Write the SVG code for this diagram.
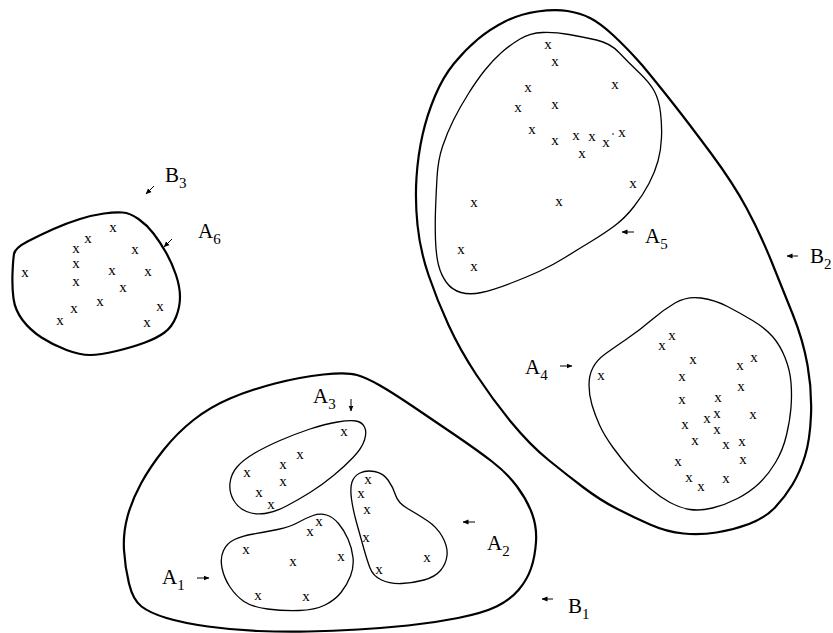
<svg xmlns="http://www.w3.org/2000/svg" width="833" height="633" viewBox="0 0 833 633">
<defs>
<style>
.b{fill:none;stroke:#000;stroke-width:2.2;stroke-linejoin:round}
.a{fill:none;stroke:#000;stroke-width:1.3;stroke-linejoin:round}
.m text{font-family:"Liberation Serif","Times New Roman",serif;font-size:15px;text-anchor:middle;fill:#000}
.lb{font-family:"Liberation Serif","Times New Roman",serif;font-size:21px;fill:#000}
.lb tspan{font-size:15px}
.ar{fill:none;stroke:#000;stroke-width:1;marker-end:url(#ah)}
</style>
<marker id="ah" markerUnits="userSpaceOnUse" markerWidth="6" markerHeight="6" viewBox="0 0 6 6" refX="5.5" refY="3" orient="auto">
<path d="M0,0.5 L6,3 L0,5.5 Z" fill="#000"/>
</marker>
</defs>
<rect width="833" height="633" fill="#fff"/>

<g id="B1">
<path class="b" d="M323.5,374.5 Q347,372 357,375 Q367,378 380,385.5 Q393,393 413,406.5 Q433,420 455,435 Q477,450 492,461.5 Q507,473 517,486.5 Q527,500 532,513.5 Q537,527 536,542 Q535,557 531,568.5 Q527,580 518.5,590 Q510,600 496.5,606.5 Q483,613 458,618 Q433,623 408,625.5 Q383,628 358,629.5 Q333,631 308,631.5 Q283,632 258,631 Q233,630 208,626.5 Q183,623 166.5,618 Q150,613 141.5,606.5 Q133,600 129,583.5 Q125,567 124,550 Q123,533 127.5,516.5 Q132,500 141,483.5 Q150,467 163.5,450 Q177,433 193.5,420 Q210,407 230,398.5 Q250,390 275,383.5 Q300,377 323.5,374.5 Z"/>
<text class="lb" x="568" y="613">B<tspan dy="6">1</tspan></text>
</g>

<g id="A1">
<path class="a" d="M313,515.5 Q320,513 326.5,515 Q333,517 338.5,523.5 Q344,530 348,539 Q352,548 353,557.5 Q354,567 350.5,576 Q347,585 341,592.5 Q335,600 325,605 Q315,610 299,610.5 Q283,611 267.5,609 Q252,607 244,601.5 Q236,596 230,587 Q224,578 222,568 Q220,558 223.5,550.5 Q227,543 234.5,539.5 Q242,536 253.5,534 Q265,532 277.5,529.5 Q290,527 298,522.5 Q306,518 313,515.5 Z"/>
<g class="m" transform="translate(0,3.5)">
<text x="319" y="522">x</text><text x="310" y="532">x</text><text x="246" y="550">x</text><text x="293" y="562">x</text><text x="341" y="557">x</text><text x="258" y="596">x</text><text x="306" y="597">x</text>
</g>
<text class="lb" x="162" y="584">A<tspan dy="6">1</tspan></text>
</g>

<g id="A2">
<path class="a" d="M360,473 Q366,470 374.5,471.5 Q383,473 388,480 Q393,487 395.5,495 Q398,503 407.5,508.5 Q417,514 427,520.5 Q437,527 442.5,537 Q448,547 447,555.5 Q446,564 440.5,570.5 Q435,577 424,580 Q413,583 401.5,583.5 Q390,584 381.5,580 Q373,576 370,568 Q367,560 363.5,547.5 Q360,535 356.5,522.5 Q353,510 351.5,499 Q350,488 352,482 Q354,476 360,473 Z"/>
<g class="m" transform="translate(0,3.5)">
<text x="368" y="480">x</text><text x="361" y="494">x</text><text x="367" y="510">x</text><text x="366" y="538">x</text><text x="379" y="570">x</text><text x="427" y="558">x</text>
</g>
<text class="lb" x="487" y="550">A<tspan dy="6">2</tspan></text>
</g>

<g id="A3">
<path class="a" d="M337.5,422 Q350,420 356,421 Q362,422 364.5,427 Q367,432 364.5,440 Q362,448 353.5,457 Q345,466 333.5,475.5 Q322,485 310,492.5 Q298,500 286.5,506 Q275,512 265,513.5 Q255,515 246.5,511.5 Q238,508 233.5,500 Q229,492 230,483 Q231,474 237,467 Q243,460 254,453.5 Q265,447 280,440.5 Q295,434 310,429 Q325,424 337.5,422 Z"/>
<g class="m" transform="translate(0,3.5)">
<text x="344" y="432">x</text><text x="300" y="455">x</text><text x="283" y="465">x</text><text x="247" y="473">x</text><text x="283" y="482">x</text><text x="259" y="493">x</text><text x="271" y="505">x</text>
</g>
<text class="lb" x="313" y="403">A<tspan dy="6">3</tspan></text>
</g>

<g id="B2">
<path class="b" d="M537.5,11.5 Q555,9 567.5,11 Q580,13 590,18 Q600,23 613.5,35.5 Q627,48 642,65 Q657,83 673.5,104 Q690,125 711.5,154 Q733,183 746.5,208 Q760,233 771.5,261.5 Q783,290 793,315 Q803,340 807.5,365 Q812,390 811,415 Q810,440 805,456 Q800,472 792.5,484.5 Q785,497 775,507.5 Q765,518 749,524 Q733,530 716.5,532.5 Q700,535 683.5,533.5 Q667,532 650,524.5 Q633,517 616.5,508.5 Q600,500 583.5,487.5 Q567,475 548.5,460 Q530,445 511.5,422.5 Q493,400 476.5,375 Q460,350 448.5,325 Q437,300 428.5,275 Q420,250 417.5,225 Q415,200 416.5,177.5 Q418,155 422.5,135 Q427,115 435,96 Q443,77 454,63.5 Q465,50 477.5,39.5 Q490,29 505,21.5 Q520,14 537.5,11.5 Z"/>
<text class="lb" x="810" y="263">B<tspan dy="6">2</tspan></text>
</g>

<g id="A4">
<path class="a" d="M675,303 Q687,296 701,298 Q715,300 727.5,306.5 Q740,313 752.5,320.5 Q765,328 772.5,336.5 Q780,345 785,357.5 Q790,370 791,382.5 Q792,395 791,407.5 Q790,420 786.5,435 Q783,450 775.5,462.5 Q768,475 759,483.5 Q750,492 737.5,498.5 Q725,505 712.5,508 Q700,511 690,509.5 Q680,508 670,502.5 Q660,497 650,488.5 Q640,480 631,470 Q622,460 613,447.5 Q604,435 599.5,425 Q595,415 592,405 Q589,395 589,385 Q589,375 593,367.5 Q597,360 604.5,354.5 Q612,349 626,339.5 Q640,330 651.5,320 Q663,310 675,303 Z"/>
<g class="m" transform="translate(0,3.5)">
<text x="662" y="346">x</text><text x="672" y="336">x</text><text x="693" y="360">x</text><text x="740" y="366">x</text><text x="754" y="358">x</text><text x="601" y="376">x</text><text x="682" y="377">x</text><text x="741" y="387">x</text><text x="682" y="400">x</text><text x="718" y="398">x</text><text x="707" y="419">x</text><text x="717" y="414">x</text><text x="753" y="415">x</text><text x="685" y="425">x</text><text x="717" y="430">x</text><text x="695" y="441">x</text><text x="726" y="445">x</text><text x="742" y="442">x</text><text x="678" y="462">x</text><text x="743" y="460">x</text><text x="689" y="478">x</text><text x="701" y="487">x</text><text x="726" y="479">x</text>
</g>
<text class="lb" x="525" y="374">A<tspan dy="6">4</tspan></text>
</g>

<g id="A5">
<path class="a" d="M520,39 Q530,33 542.5,32.5 Q555,32 569,34.5 Q583,37 596.5,40 Q610,43 619,52.5 Q628,62 639,72.5 Q650,83 654.5,91.5 Q659,100 660.5,112.5 Q662,125 661.5,137.5 Q661,150 658,161 Q655,172 649,183.5 Q643,195 634,206.5 Q625,218 615,225.5 Q605,233 591,241.5 Q577,250 565,257.5 Q553,265 540,271 Q527,277 510,283.5 Q493,290 481.5,292.5 Q470,295 461,292.5 Q452,290 446.5,282.5 Q441,275 438.5,265 Q436,255 435.5,240 Q435,225 435.5,210 Q436,195 437,177.5 Q438,160 442.5,146.5 Q447,133 453.5,120 Q460,107 468.5,93.5 Q477,80 485,70 Q493,60 501.5,52.5 Q510,45 520,39 Z"/>
<g class="m" transform="translate(0,3.5)">
<text x="548" y="45">x</text><text x="555" y="62">x</text><text x="528" y="88">x</text><text x="615" y="85">x</text><text x="518" y="108">x</text><text x="555" y="105">x</text><text x="532" y="130">x</text><text x="555" y="141">x</text><text x="576" y="136">x</text><text x="592" y="137">x</text><text x="606" y="143">x</text><text x="622" y="133">x</text><text x="582" y="154">x</text><text x="633" y="184">x</text><text x="474" y="203">x</text><text x="559" y="202">x</text><text x="461" y="250">x</text><text x="474" y="267">x</text>
</g>
<circle cx="613" cy="134" r="0.8" fill="#000"/>
<text class="lb" x="645" y="243">A<tspan dy="6">5</tspan></text>
</g>

<g id="A6">
<path class="b" d="M14,254 Q15,248 27.5,241.5 Q40,235 53.5,229 Q67,223 80,219 Q93,215 104,213.5 Q115,212 122.5,212.5 Q130,213 138.5,219 Q147,225 153.5,233.5 Q160,242 166,252.5 Q172,263 176,275 Q180,287 180,297 Q180,307 176,317 Q172,327 164.5,332.5 Q157,338 145,342.5 Q133,347 116.5,351 Q100,355 90,355 Q80,355 66.5,350 Q53,345 41.5,337.5 Q30,330 22.5,320 Q15,310 13.5,298.5 Q12,287 12.5,273.5 Q13,260 14,254 Z"/>
<g class="m" transform="translate(0,3.5)">
<text x="25" y="273">x</text><text x="88" y="239">x</text><text x="113" y="228">x</text><text x="76" y="249">x</text><text x="76" y="264">x</text><text x="76" y="282">x</text><text x="112" y="271">x</text><text x="135" y="250">x</text><text x="148" y="272">x</text><text x="123" y="288">x</text><text x="100" y="302">x</text><text x="74" y="309">x</text><text x="60" y="321">x</text><text x="160" y="307">x</text><text x="147" y="323">x</text>
</g>
<text class="lb" x="198" y="238">A<tspan dy="6">6</tspan></text>
</g>

<g id="B3">
<text class="lb" x="165" y="182">B<tspan dy="6">3</tspan></text>
</g>

<g id="connectors">
<path class="ar" d="M154,186 L146,194"/>
<path class="ar" d="M172,239 L164,247"/>
<path class="ar" d="M634,232 L622,232"/>
<path class="ar" d="M798,256 L787,256"/>
<path class="ar" d="M560,366 L572,366"/>
<path class="ar" d="M351,399 L351,411"/>
<path class="ar" d="M197,578 L209,578"/>
<path class="ar" d="M475,522 L463,522"/>
<path class="ar" d="M553,599 L542,599"/>
</g>
</svg>
